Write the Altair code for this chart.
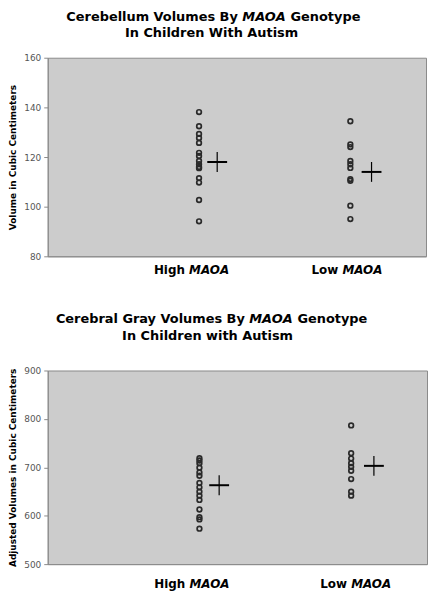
import altair as alt
import pandas as pd

# ---- data ----
groups = ["High", "Low"]
gene = "MAOA"
group_x = [1, 2]

# Cerebellum volumes (cc)
cb_high = [138.1, 132.4, 129.3, 127.7, 125.7, 121.7, 120.4, 118.4, 117.1, 116.0, 115.5, 111.5, 109.7, 102.7, 94.1]
cb_low = [134.4, 125.1, 124.0, 118.4, 117.1, 115.6, 111.1, 110.4, 100.4, 95.0]
cb_means = [118, 114]
cb_mean_x = [1.12, 2.14]

# Cerebral gray volumes (adjusted cc)
cg_high = [718.8, 714.0, 708.5, 699.0, 689.4, 682.5, 667.5, 658.6, 649.7, 641.5, 632.6, 612.8, 597.0, 592.3, 573.2]
cg_low = [786.5, 729.0, 718.0, 708.5, 701.0, 692.8, 675.7, 649.7, 641.5]
cg_means = [663, 703]
cg_mean_x = [1.13, 2.15]

FONT = "DejaVu Sans"
SP13 = 4.5   # width of a bold space at 13px
SP12 = 4.2   # width of a bold space at 12px
GENE_W13 = 44  # width of bold italic "MAOA" at 13px


def text_piece(txt, x, y, align, italic=False, size=13):
    kw = dict(font=FONT, fontSize=size, fontWeight="bold", color="black",
              align=align, baseline="middle")
    if italic:
        kw["fontStyle"] = "italic"
    return alt.Chart(pd.DataFrame({"t": [txt]})).mark_text(**kw).encode(
        text="t:N", x=alt.value(x), y=alt.value(y)
    )


def panel(high, low, means, mean_xs, ydomain, yticks, ytitle,
          t1_pre, t1_post, t2, split_x, t2_x, t1_y, t2_y,
          width, height, label_dy, label_dx):
    pts = pd.DataFrame({
        "x": [group_x[0]] * len(high) + [group_x[1]] * len(low),
        "v": high + low,
    })
    mdf = pd.DataFrame({"x": mean_xs, "v": means})
    xenc = alt.X(
        "x:Q",
        scale=alt.Scale(domain=[0, 2.5], nice=False, zero=False),
        axis=alt.Axis(values=group_x, labels=False, ticks=False, grid=False, title=None,
                      domainColor="#8a8a8a"),
    )
    yenc = alt.Y(
        "v:Q",
        scale=alt.Scale(domain=ydomain, nice=False, zero=False),
        axis=alt.Axis(
            values=yticks, grid=False, title=ytitle, titleFont=FONT, titleFontSize=9,
            titleFontWeight="bold", titleColor="black", titlePadding=6,
            labelFont=FONT, labelFontSize=9, labelColor="#555555", labelPadding=3,
            tickSize=4, tickColor="#8a8a8a", domainColor="#8a8a8a",
        ),
    )
    layers = []
    layers.append(alt.Chart(pts).mark_point(
        shape="circle", size=22, filled=False, stroke="#2a2a2a", strokeWidth=1.7, opacity=1
    ).encode(x=xenc, y=yenc))
    layers.append(alt.Chart(mdf).mark_point(
        shape="M-1,0L1,0", size=400, filled=False, stroke="black", strokeWidth=2, opacity=1
    ).encode(x="x:Q", y="v:Q"))
    layers.append(alt.Chart(mdf).mark_point(
        shape="M0,-1L0,1", size=400, filled=False, stroke="black", strokeWidth=1.2, opacity=1
    ).encode(x="x:Q", y="v:Q"))
    # category labels: "High MAOA" / "Low MAOA" with the gene name in italics
    for i, g in enumerate(groups):
        ldf = pd.DataFrame({"x": [group_x[i]], "v": [ydomain[0]], "a": [g], "b": [gene]})
        layers.append(alt.Chart(ldf).mark_text(
            font=FONT, fontSize=12, fontWeight="bold", color="black", align="right",
            baseline="middle", dx=label_dx[i] - SP12, dy=label_dy,
        ).encode(x="x:Q", y="v:Q", text="a:N"))
        layers.append(alt.Chart(ldf).mark_text(
            font=FONT, fontSize=12, fontWeight="bold", fontStyle="italic", color="black",
            align="left", baseline="middle", dx=label_dx[i], dy=label_dy,
        ).encode(x="x:Q", y="v:Q", text="b:N"))
    # two-line title with the gene name in italics
    layers.append(text_piece(t1_pre, split_x - SP13, t1_y, "right"))
    layers.append(text_piece(gene, split_x, t1_y, "left", italic=True))
    layers.append(text_piece(t1_post, split_x + GENE_W13 + SP13, t1_y, "left"))
    layers.append(text_piece(t2, t2_x, t2_y, "center"))
    return alt.layer(*layers).properties(width=width, height=height)


top = panel(
    cb_high, cb_low, cb_means, cb_mean_x, [80, 160], [80, 100, 120, 140, 160],
    "Volume in Cubic Centimeters",
    "Cerebellum Volumes By", "Genotype", "In Children With Autism",
    196, 165, -41, -25,
    381, 200, 14, [-10, -8],
)
bottom = panel(
    cg_high, cg_low, cg_means, cg_mean_x, [500, 900], [500, 600, 700, 800, 900],
    "Adjusted Volumes in Cubic Centimeters",
    "Cerebral Gray Volumes By", "Genotype", "In Children with Autism",
    203, 161, -52, -35,
    382, 195, 20, [-10, 0],
)

chart = alt.vconcat(top, bottom, spacing=35).properties(
    padding={"left": 0, "top": 0, "right": 0, "bottom": 0},
    background="white",
).configure_view(fill="#cccccc", stroke="#8a8a8a", strokeWidth=1)

chart.save("out.html", embed_options={"renderer": "svg", "actions": False})
